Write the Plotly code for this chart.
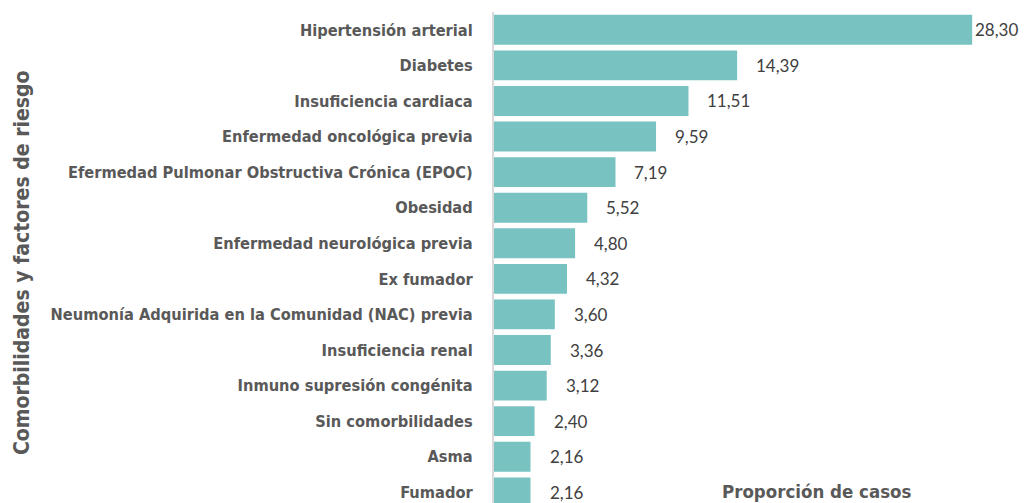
import plotly.graph_objects as go

categories = [
    "Hipertensión arterial",
    "Diabetes",
    "Insuficiencia cardiaca",
    "Enfermedad oncológica previa",
    "Efermedad Pulmonar Obstructiva Crónica (EPOC)",
    "Obesidad",
    "Enfermedad neurológica previa",
    "Ex fumador",
    "Neumonía Adquirida en la Comunidad (NAC) previa",
    "Insuficiencia renal",
    "Inmuno supresión congénita",
    "Sin comorbilidades",
    "Asma",
    "Fumador",
]
values = [28.30, 14.39, 11.51, 9.59, 7.19, 5.52, 4.80, 4.32, 3.60, 3.36, 3.12, 2.40, 2.16, 2.16]
value_labels = [f"{v:.2f}".replace(".", ",") for v in values]

x_title = "Proporción de casos"
y_title = "Comorbilidades y factores de riesgo"

BAR_COLOR = "#78C2C2"
LABEL_COLOR = "#595959"
VALUE_COLOR = "#404040"
BOLD_FONT = "DejaVu Sans Condensed"

fig = go.Figure(
    go.Bar(
        x=values,
        y=categories,
        orientation="h",
        marker=dict(color=BAR_COLOR, line=dict(width=0)),
        hoverinfo="skip",
    )
)

max_v = max(values)
annotations = []
for cat, v, lab in zip(categories, values, value_labels):
    annotations.append(
        dict(
            x=v, y=cat, xref="x", yref="y", text=lab, showarrow=False,
            xanchor="left", yanchor="middle",
            xshift=1 if v == max_v else 17,
            font=dict(family="Lato", size=17, color=VALUE_COLOR),
        )
    )

plot_l, plot_r = 494, 984
plot_w = plot_r - plot_l
annotations.append(
    dict(
        x=(22 - plot_l) / plot_w, y=(503 - 263) / (503 - 12),
        xref="paper", yref="paper", text=f"<b>{y_title}</b>", showarrow=False,
        textangle=-90, xanchor="center", yanchor="middle",
        font=dict(family=BOLD_FONT, size=21, color=LABEL_COLOR),
    )
)
annotations.append(
    dict(
        x=(816 - plot_l) / plot_w, y=(503 - 491) / (503 - 12),
        xref="paper", yref="paper", text=f"<b>{x_title}</b>", showarrow=False,
        xanchor="center", yanchor="middle",
        font=dict(family=BOLD_FONT, size=18.5, color=LABEL_COLOR),
    )
)

fig.update_layout(
    width=1025,
    height=503,
    margin=dict(l=plot_l, r=1025 - plot_r, t=12, b=0, autoexpand=False),
    paper_bgcolor="white",
    plot_bgcolor="white",
    bargap=0.16,
    showlegend=False,
    annotations=annotations,
    xaxis=dict(range=[0, 29], visible=False, showgrid=False, zeroline=False),
    yaxis=dict(
        type="category",
        range=[13.30, -0.5],
        showline=True,
        linecolor="#D9D9D9",
        linewidth=2,
        showgrid=False,
        ticks="",
        ticklabelstandoff=16,
        tickfont=dict(family=BOLD_FONT, size=16.3, color=LABEL_COLOR),
        tickprefix="<b>",
        ticksuffix="</b>",
    ),
)

fig.write_html(
    "out.html",
    config={"displayModeBar": False, "staticPlot": True},
    post_script="document.body.style.margin='0';document.body.style.overflow='hidden';",
)
